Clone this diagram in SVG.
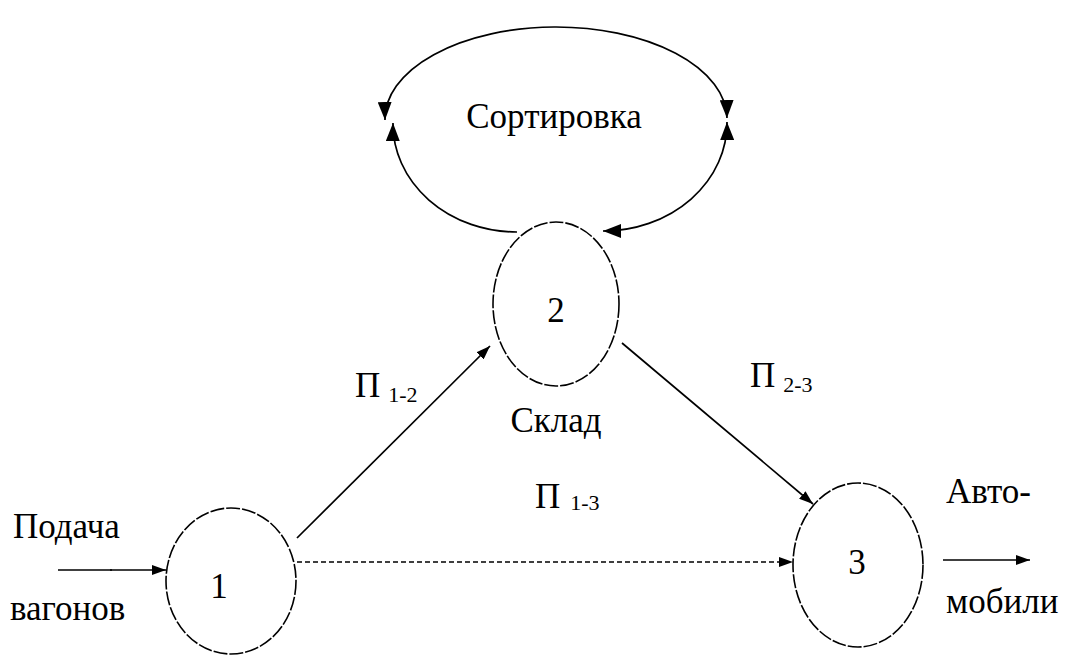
<svg xmlns="http://www.w3.org/2000/svg" width="1070" height="655" viewBox="0 0 1070 655" font-family="Liberation Serif, DejaVu Serif, Times New Roman, serif">
  <style>
    .lbl { font-size: 35px; fill: #000; }
    .sub { font-size: 22px; fill: #000; }
    .node { fill: none; stroke: #000; stroke-width: 1.6; stroke-dasharray: 14 2; }
    .edge { fill: none; stroke: #000; stroke-width: 1.7; }
    .dash { stroke-dasharray: 5 3; }
  </style>
  <defs>
    <marker id="arr" viewBox="0 0 18 14" refX="18" refY="7" markerWidth="18" markerHeight="14" markerUnits="userSpaceOnUse" orient="auto-start-reverse">
      <path d="M0,0 L18,7 L0,14 Z" fill="#000"/>
    </marker>
    <marker id="arrS" viewBox="0 0 14 10" refX="14" refY="5" markerWidth="14" markerHeight="10" markerUnits="userSpaceOnUse" orient="auto">
      <path d="M0,0 L14,5 L0,10 Z" fill="#000"/>
    </marker>
  </defs>

  <rect width="1070" height="655" fill="#fff"/>

  <!-- connectors -->
  <g id="connectors">
    <!-- sorting loop above node 2 -->
    <path class="edge" d="M385,120 A171 92 0 0 1 727,118" marker-start="url(#arr)" marker-end="url(#arr)"/>
    <path class="edge" d="M517,232 A124 108 0 0 1 393,123" marker-end="url(#arr)"/>
    <path class="edge" d="M727,122 A124 108 0 0 1 603,231" marker-start="url(#arr)" marker-end="url(#arr)"/>
    <!-- П 1-2 -->
    <path class="edge" d="M297,538 L490,346" marker-end="url(#arrS)"/>
    <!-- П 2-3 -->
    <path class="edge" d="M622,343 L813,504" marker-end="url(#arrS)"/>
    <!-- П 1-3 -->
    <path class="edge dash" d="M297,562 L793,562" marker-end="url(#arrS)"/>
    <!-- incoming wagons -->
    <path class="edge" d="M58,570 L112,570" stroke-width="1.3"/>
    <path class="edge" d="M110,570 L166,570" stroke-width="2.4" marker-end="url(#arrS)"/>
    <!-- outgoing vehicles -->
    <path class="edge" d="M943,560 L1030,560" stroke-width="2.3" marker-end="url(#arrS)"/>
  </g>

  <!-- node 1 -->
  <g id="node1">
    <ellipse class="node" cx="231" cy="581" rx="65" ry="73"/>
    <text class="lbl" x="219" y="598" text-anchor="middle">1</text>
  </g>

  <!-- node 2 -->
  <g id="node2">
    <ellipse class="node" cx="556" cy="304" rx="63" ry="82"/>
    <text class="lbl" x="556" y="322" text-anchor="middle">2</text>
  </g>

  <!-- node 3 -->
  <g id="node3">
    <ellipse class="node" cx="858" cy="565" rx="65" ry="82"/>
    <text class="lbl" x="857" y="574" text-anchor="middle">3</text>
  </g>

  <!-- labels -->
  <g id="labels">
    <text class="lbl" x="554" y="128" text-anchor="middle">Сортировка</text>
    <text class="lbl" x="556" y="432" text-anchor="middle">Склад</text>
    <text class="lbl" x="13" y="538">Подача</text>
    <text class="lbl" x="10" y="620">вагонов</text>
    <text class="lbl" x="946" y="503">Авто-</text>
    <text class="lbl" x="946" y="613">мобили</text>
    <text x="355" y="397"><tspan class="lbl">П</tspan><tspan class="sub" dx="8" dy="5">1-2</tspan></text>
    <text x="535" y="508"><tspan class="lbl">П</tspan><tspan class="sub" dx="10" dy="2">1-3</tspan></text>
    <text x="750" y="387"><tspan class="lbl">П</tspan><tspan class="sub" dx="8" dy="5">2-3</tspan></text>
  </g>
</svg>
